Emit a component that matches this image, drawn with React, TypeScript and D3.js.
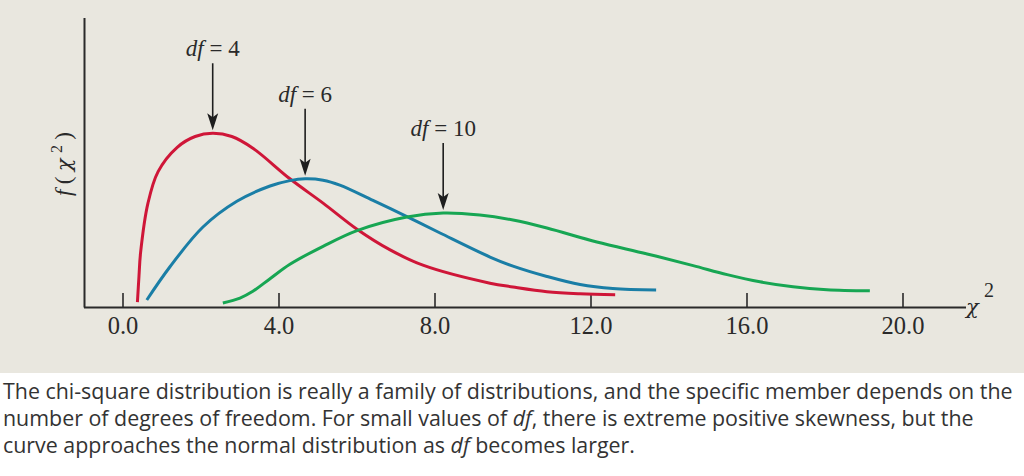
import React from "react";
import * as d3 from "d3";

// χ² values and density heights
const redX = [0.37, 0.41, 0.45, 0.64, 0.9, 1.39, 1.85, 2.3, 2.79, 3.33, 4.28, 5.13, 6.0, 6.85, 7.69, 9.41, 10.0, 10.87, 11.72, 12.62];
const redY = [0.001, 0.03, 0.0556, 0.111, 0.146, 0.173, 0.185, 0.1886, 0.185, 0.172, 0.138, 0.111, 0.082, 0.059, 0.042, 0.022, 0.0178, 0.0126, 0.0103, 0.0092];

const blueX = [0.61, 1.2, 2.05, 2.92, 3.77, 4.28, 4.67, 5.13, 5.56, 6.41, 7.28, 8.13, 9.41, 10.0, 10.87, 11.72, 12.56, 13.67];
const blueY = [0.0033, 0.04, 0.0844, 0.113, 0.13, 0.136, 0.138, 0.1365, 0.131, 0.114, 0.096, 0.0778, 0.0511, 0.041, 0.0295, 0.0205, 0.016, 0.0144];

const greenX = [2.56, 3.0, 3.33, 3.77, 4.28, 5.13, 6.0, 7.28, 8.21, 9.15, 10.0, 10.87, 12.15, 13.44, 14.62, 15.49, 16.33, 17.18, 18.05, 19.15];
const greenY = [0.0, 0.0055, 0.013, 0.027, 0.043, 0.063, 0.0805, 0.0956, 0.1, 0.0978, 0.0922, 0.0833, 0.0678, 0.0545, 0.0415, 0.0315, 0.0235, 0.018, 0.0148, 0.0135];

const seriesNames = ["4", "6", "10"];
const seriesColors = ["#cf1638", "#1a7ea6", "#17a653"];
const tickValues = [0, 4, 8, 12, 16, 20];

const captionLines = [
  [{ t: "The chi-square distribution is really a family of distributions, and the specific member depends on the", i: false }],
  [
    { t: "number of degrees of freedom. For small values of ", i: false },
    { t: "df", i: true },
    { t: ", there is extreme positive skewness, but the", i: false },
  ],
  [
    { t: "curve approaches the normal distribution as ", i: false },
    { t: "df", i: true },
    { t: " becomes larger.", i: false },
  ],
];

export default function App() {
  const W = 1024;
  const H = 476;
  const x = d3.scaleLinear().domain([0, 20]).range([123, 903]);
  const y = d3.scaleLinear().domain([0, 0.2]).range([303, 123]);
  const axisY = 307.5;
  const serif = "'Liberation Serif', 'Times New Roman', serif";
  const greek = "'DejaVu Serif', serif";

  const series = [
    { xs: redX, ys: redY },
    { xs: blueX, ys: blueY },
    { xs: greenX, ys: greenY },
  ];

  const line = d3
    .line<[number, number]>()
    .x((d) => x(d[0]))
    .y((d) => y(d[1]))
    .curve(d3.curveCatmullRom.alpha(0.5));

  return (
    <svg
      width={W}
      height={H}
      style={{ position: "absolute", left: 0, top: 0, background: "#ffffff" }}
    >
      <rect x={0} y={0} width={W} height={373} fill="#e9e7df" />
      {/* y axis */}
      <line x1={84.5} y1={18} x2={84.5} y2={axisY} stroke="#2a2a2a" strokeWidth={2} />
      {/* x axis */}
      <line x1={84} y1={axisY} x2={966} y2={axisY} stroke="#2a2a2a" strokeWidth={2} />
      {tickValues.map((v) => (
        <g key={v}>
          <line x1={x(v)} y1={293} x2={x(v)} y2={axisY} stroke="#2a2a2a" strokeWidth={1.6} />
          <text
            x={x(v)}
            y={334}
            textAnchor="middle"
            fontFamily={serif}
            fontSize={24.5}
            fill="#2a2a2a"
          >
            {d3.format(".1f")(v)}
          </text>
        </g>
      ))}
      <text x={966} y={314} fontFamily={greek} fontStyle="italic" fontSize={21} fill="#2a2a2a">
        χ
      </text>
      <text x={984} y={297} fontFamily={serif} fontSize={20} fill="#2a2a2a">
        2
      </text>
      <text
        transform="translate(71,164) rotate(-90)"
        textAnchor="middle"
        fontFamily={serif}
        fontSize={23}
        fill="#2a2a2a"
        textLength={64}
        lengthAdjust="spacing"
      >
        <tspan fontStyle="italic">f</tspan>
        <tspan>(</tspan>
        <tspan fontStyle="italic" fontFamily={greek} fontSize={21}>χ</tspan>
        <tspan fontSize={16} dy={-9}>2</tspan>
        <tspan dy={9}>)</tspan>
      </text>

      {series.map((s, i) => {
        const pts: [number, number][] = s.xs.map((v, k) => [v, s.ys[k]]);
        return (
          <path
            key={i}
            d={line(pts) || ""}
            fill="none"
            stroke={seriesColors[i]}
            strokeWidth={3}
            strokeLinecap="butt"
          />
        );
      })}

      {series.map((s, i) => {
        const k = d3.maxIndex(s.ys);
        const px = x(s.xs[k]);
        const tip = y(s.ys[k]) - 3;
        const tail = tip - 67;
        return (
          <g key={"a" + i}>
            <line x1={px} y1={tail} x2={px} y2={tip - 10} stroke="#1e1e1e" strokeWidth={1.6} />
            <path
              d={`M${px},${tip} L${px - 5.5},${tip - 17} L${px},${tip - 13} L${px + 5.5},${tip - 17} Z`}
              fill="#1e1e1e"
            />
            <text
              x={px}
              y={tail - 7}
              textAnchor="middle"
              fontFamily={serif}
              fontSize={23}
              fill="#2a2a2a"
            >
              <tspan fontStyle="italic">df</tspan>
              <tspan> = {seriesNames[i]}</tspan>
            </text>
          </g>
        );
      })}

      {captionLines.map((ln, li) => (
        <text
          key={li}
          x={3}
          y={399 + li * 27}
          fontFamily="'Open Sans', 'Noto Sans', sans-serif"
          fontSize={21.4}
          fill="#333333"
        >
          {ln.map((seg, si) => (
            <tspan key={si} fontStyle={seg.i ? "italic" : "normal"}>
              {seg.t}
            </tspan>
          ))}
        </text>
      ))}
    </svg>
  );
}
